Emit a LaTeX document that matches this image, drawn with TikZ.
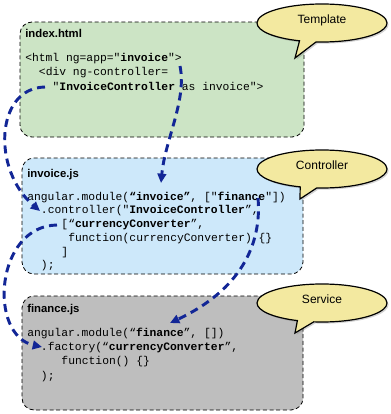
\documentclass[tikz,border=0pt]{standalone}
\usepackage{fontspec}
\setmainfont{Liberation Sans}
\setmonofont{Liberation Mono}
\usetikzlibrary{shapes.callouts,shadows,arrows.meta}
\definecolor{tgreen}{HTML}{CCE4C5}
\definecolor{tblue}{HTML}{CDE8FA}
\definecolor{tgray}{HTML}{BEBEBE}
\definecolor{tyellow}{HTML}{F3E9A0}
\definecolor{tarrow}{RGB}{18,38,150}
\begin{document}
\begin{tikzpicture}[x=0.75pt,y=-0.75pt,
  filebox/.style={draw=black, line width=0.6pt, dash pattern=on 3pt off 2pt, rounded corners=9pt, inner sep=0pt},
  title/.style={font=\fontsize{8.5}{10}\selectfont\bfseries, anchor=base west, inner sep=0pt},
  code/.style={font=\ttfamily\fontsize{8.5}{10}\selectfont, anchor=base west, inner sep=0pt},
  bubble/.style={ellipse callout, draw=black, line width=0.9pt, fill=tyellow, minimum width=97.5pt, minimum height=28.5pt, inner sep=0pt, font=\fontsize{9}{11}\selectfont, drop shadow={opacity=0.35, shadow xshift=1.2pt, shadow yshift=-1.2pt}},
  link/.style={draw=tarrow, line width=2.2pt, dash pattern=on 6pt off 4pt, -{Triangle[length=7pt,width=6.5pt]}}
]
\useasboundingbox (0,0) rectangle (391,414);
% file boxes
\node[filebox, fill=tgreen, minimum width=213pt, minimum height=86.25pt] (green) at (162,79.5) {};
\node[filebox, fill=tblue, minimum width=210.75pt, minimum height=87pt] (blue) at (162.5,216) {};
\node[filebox, fill=tgray, minimum width=210.75pt, minimum height=85.5pt] (gray) at (162.5,353) {};
% titles
\node[title] (t1) at (25,37) {index.html};
\node[title] (t2) at (27,177) {invoice.js};
\node[title] (t3) at (27,312) {finance.js};
% template code
\node[code] (g1) at (25,61.5) {<html ng=app="\textbf{invoice}">};
\node[code] (g2) at (38.7,75.5) {<div ng-controller=};
\node[code] (g3) at (52.4,90.5) {"\textbf{InvoiceController} as invoice">};
% controller code
\node[code] (b1) at (27,200.5) {angular.module(\textbf{“invoice”}, ["\textbf{finance}"])};
\node[code] (b2) at (40.7,213.5) {.controller("\textbf{InvoiceController}”,};
\node[code] (b3) at (61.2,227.5) {[“\textbf{currencyConverter}”,};
\node[code] (b4) at (68,241.5) {function(currencyConverter) \{\}};
\node[code] (b5) at (61.2,255.5) {]};
\node[code] (b6) at (40.7,268.5) {);};
% service code
\node[code] (s1) at (27,336.5) {angular.module(“\textbf{finance}”, [])};
\node[code] (s2) at (40.7,350.5) {.factory(“\textbf{currencyConverter}”,};
\node[code] (s3) at (61.2,364.5) {function() \{\}};
\node[code] (s4) at (40.7,379.5) {);};
% callouts
\node[bubble, callout absolute pointer={(295,58)}] (tmpl) at (322,23) {\smash{Template}};
\node[bubble, callout absolute pointer={(300,199)}] (ctrl) at (322,169) {\smash{Controller}};
\node[bubble, callout absolute pointer={(295,333)}] (svc) at (322,303) {\smash{Service}};
% connector ends
\coordinate (a1s) at (180,66);
\coordinate (a1e) at (161,183);
\coordinate (a2s) at (45,87);
\coordinate (a2e) at (40,211);
\coordinate (a3s) at (57,225);
\coordinate (a3e) at (42,347);
\coordinate (a4s) at (258,198);
\coordinate (a4e) at (170,323);
% connectors
\draw[link] (a1s) .. controls (187,100) and (165,140) .. (a1e);
\draw[link] (a2s) .. controls (-5,88) and (-8,170) .. (a2e);
\draw[link] (a3s) .. controls (-5,226) and (-12,335) .. (a3e);
\draw[link] (a4s) .. controls (262,245) and (240,290) .. (a4e);
\end{tikzpicture}
\end{document}
